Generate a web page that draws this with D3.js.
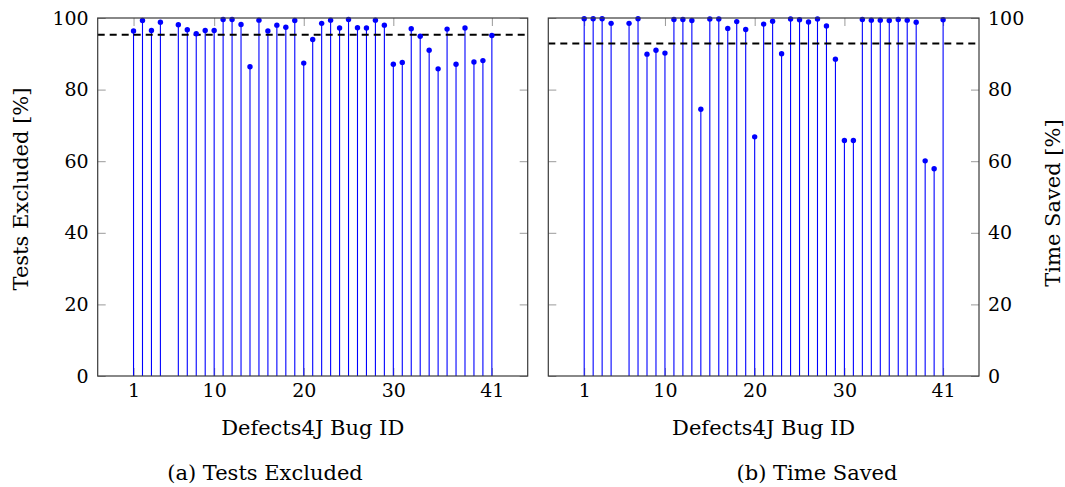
<!DOCTYPE html>
<html>
<head>
	<meta charset="utf-8">
	<title>Tests Excluded / Time Saved</title>
	<script src="https://d3js.org/d3.v7.min.js"></script>
	<style>
		body { margin: 0; background: #fff; }
	</style>
</head>
<body>
	<div id="chart"></div>
	<script>
		// Defects4J bug ids (no bug 5)
		const bugIds = [1, 2, 3, 4, 6, 7, 8, 9, 10, 11, 12, 13, 14, 15, 16, 17, 18, 19, 20, 21,
			22, 23, 24, 25, 26, 27, 28, 29, 30, 31, 32, 33, 34, 35, 36, 37, 38, 39, 40, 41];

		const testsExcluded = [96.4, 99.3, 96.5, 98.8, 98.1, 96.7, 95.6, 96.5, 96.5, 99.6,
			99.6, 98.2, 86.4, 99.4, 96.4, 98.0, 97.4, 99.3, 87.4, 94.0,
			98.5, 99.4, 97.2, 99.6, 97.3, 97.2, 99.4, 98.0, 87.1, 87.6,
			97.0, 94.9, 91.0, 85.8, 96.9, 87.1, 97.2, 87.7, 88.1, 95.1];

		const timeSaved = [99.8, 99.8, 99.8, 98.5, 98.5, 99.8, 89.9, 91.0, 90.2, 99.6,
			99.6, 99.3, 74.5, 99.7, 99.7, 97.1, 99.0, 96.8, 66.8, 98.3,
			99.1, 90.0, 99.7, 99.5, 98.9, 99.7, 97.8, 88.5, 65.8, 65.8,
			99.6, 99.4, 99.4, 99.3, 99.6, 99.4, 98.8, 60.1, 57.9, 99.5];

		const meanExcluded = 95.3;
		const meanSaved = 92.9;

		const xTicks = [1, 10, 20, 30, 41];
		const yTicks = [0, 20, 40, 60, 80, 100];

		const W = 1065, H = 487;
		const plotTop = 18, plotBottom = 376;
		const FONT = "'DejaVu Serif', 'Liberation Serif', serif";
		const TICK_SIZE = "19px";
		const TITLE_SIZE = "21px";

		const svg = d3.select("#chart").append("svg")
			.attr("width", W)
			.attr("height", H);

		const y = d3.scaleLinear().domain([0, 100]).range([plotBottom, plotTop]);

		const panels = [
			{ x0: 97.7, x1: 527.7, values: testsExcluded, mean: meanExcluded, side: "left",
				ylabel: "Tests Excluded [%]", ylabelX: 28, ylabelY: 189,
				caption: "(a) Tests Excluded", captionX: 265 },
			{ x0: 548.3, x1: 979, values: timeSaved, mean: meanSaved, side: "right",
				ylabel: "Time Saved [%]", ylabelX: 1060, ylabelY: 203,
				caption: "(b) Time Saved", captionX: 817 }
		];

		function label(g) {
			return g.append("text")
				.style("font-family", FONT)
				.style("font-size", TITLE_SIZE)
				.attr("fill", "#000")
				.attr("text-anchor", "middle");
		}

		panels.forEach(p => {
			const x = d3.scaleLinear().domain([-3, 45]).range([p.x0, p.x1]);
			const g = svg.append("g");

			// tick marks (inside, grey) on all four sides
			const tickColor = "#9a9a9a";
			const yl = g.append("g").attr("transform", `translate(${p.x0},0)`)
				.call(d3.axisLeft(y).tickValues(yTicks).tickSize(-8).tickPadding(9));
			const yr = g.append("g").attr("transform", `translate(${p.x1},0)`)
				.call(d3.axisRight(y).tickValues(yTicks).tickSize(-8).tickPadding(9));
			const xb = g.append("g").attr("transform", `translate(0,${plotBottom})`)
				.call(d3.axisBottom(x).tickValues(xTicks).tickSize(-8).tickPadding(8));
			const xt = g.append("g").attr("transform", `translate(0,${plotTop})`)
				.call(d3.axisTop(x).tickValues(xTicks).tickSize(-8).tickFormat(""));

			[yl, yr, xb, xt].forEach(a => {
				a.select(".domain").remove();
				a.selectAll(".tick line").attr("stroke", tickColor).attr("stroke-width", 1);
				a.selectAll(".tick text")
					.style("font-family", FONT)
					.style("font-size", TICK_SIZE)
					.attr("fill", "#000");
			});
			// y labels only on the outer side
			if (p.side === "left") yr.selectAll(".tick text").remove();
			else yl.selectAll(".tick text").remove();

			// stems
			g.selectAll(".stem").data(bugIds).enter().append("line")
				.attr("x1", d => x(d)).attr("x2", d => x(d))
				.attr("y1", y(0))
				.attr("y2", (d, i) => y(p.values[i]))
				.attr("stroke", "#0000ff")
				.attr("stroke-width", 1.1);

			// mean line
			g.append("line")
				.attr("x1", p.x0).attr("x2", p.x1)
				.attr("y1", y(p.mean)).attr("y2", y(p.mean))
				.attr("stroke", "#000")
				.attr("stroke-width", 2)
				.attr("stroke-dasharray", "7,5");

			// markers
			g.selectAll(".dot").data(bugIds).enter().append("circle")
				.attr("cx", d => x(d))
				.attr("cy", (d, i) => y(p.values[i]))
				.attr("r", 2.7)
				.attr("fill", "#0000ff");

			// frame
			g.append("rect")
				.attr("x", p.x0).attr("y", plotTop)
				.attr("width", p.x1 - p.x0).attr("height", plotBottom - plotTop)
				.attr("fill", "none")
				.attr("stroke", "#3a3a3a")
				.attr("stroke-width", 1.2);

			// labels
			label(g).attr("x", (p.x0 + p.x1) / 2).attr("y", 435)
				.text("Defects4J Bug ID");

			label(g).attr("transform", `translate(${p.ylabelX},${p.ylabelY}) rotate(-90)`)
				.text(p.ylabel);

			label(g).attr("x", p.captionX).attr("y", 480)
				.text(p.caption);
		});
	</script>
</body>
</html>
